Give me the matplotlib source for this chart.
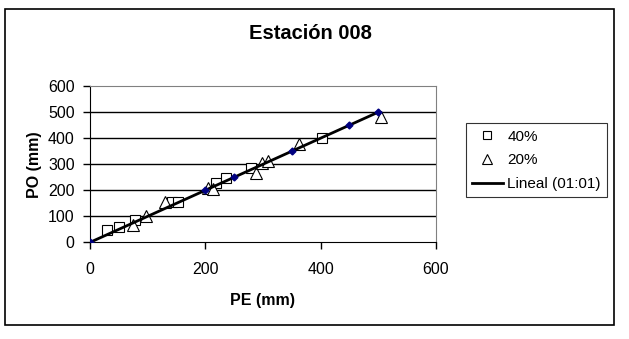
import matplotlib
matplotlib.use("Agg")
import matplotlib.pyplot as plt
from matplotlib.patches import Rectangle

plt.rcParams['font.family'] = ['Liberation Sans', 'DejaVu Sans']

# 40% series
pe_40 = [30, 50, 78, 142, 153, 219, 236, 280, 403]
po_40 = [48, 58, 86, 156, 156, 228, 246, 284, 400]

# 20% series
pe_20 = [74, 97, 130, 205, 214, 288, 298, 309, 363, 505]
po_20 = [67, 102, 156, 208, 204, 265, 306, 314, 378, 482]

# 1:1 line
pe_11 = [0, 200, 250, 350, 450, 500]
po_11 = [0, 200, 250, 350, 450, 500]

ticks = [0, 100, 200, 300, 400, 500, 600]
xticks = [0, 200, 400, 600]


def main():
    fig = plt.figure(figsize=(6.29, 3.39), dpi=100)
    ax = fig.add_axes([0.143, 0.285, 0.550, 0.461])

    for y in ticks[1:-1]:
        ax.axhline(y, color='black', lw=1.0, zorder=1)

    ax.plot(pe_40, po_40, ls='none', marker='s', ms=7, mfc='white',
            mec='black', mew=0.8, label='40%', zorder=3)
    ax.plot(pe_20, po_20, ls='none', marker='^', ms=9, mfc='white',
            mec='black', mew=0.8, label='20%', zorder=3)
    ax.plot(pe_11, po_11, color='black', lw=2, label='Lineal (01:01)', zorder=4)
    ax.plot(pe_11, po_11, ls='none', marker='D', ms=3.5, color='#000080', zorder=5)

    ax.set_xlim(0, 600)
    ax.set_ylim(0, 600)
    ax.set_xticks(xticks)
    ax.set_yticks(ticks)
    ax.tick_params(direction='out', length=5, width=1, labelsize=11.5,
                   colors='black')
    ax.tick_params(axis='x', pad=9)
    ax.tick_params(axis='y', pad=6)
    for s in ('left', 'bottom'):
        ax.spines[s].set_color('black')
    for s in ('top', 'right'):
        ax.spines[s].set_color('#808080')

    ax.set_xlabel('PE (mm)', fontsize=11.5, fontweight='bold', labelpad=12)
    ax.set_ylabel('PO (mm)', fontsize=11.5, fontweight='bold', labelpad=4)
    fig.text(0.493, 0.902, 'Estación 008', ha='center', va='center',
             fontsize=14.5, fontweight='bold')

    leg = fig.legend(loc='upper left', bbox_to_anchor=(0.741, 0.636),
                     fontsize=11, frameon=True, fancybox=False,
                     edgecolor='black', handlelength=2.0, borderpad=0.4,
                     labelspacing=0.65, handletextpad=0.3, borderaxespad=0,
                     markerscale=0.8)
    leg.get_frame().set_linewidth(0.8)

    fig.patches.append(Rectangle((0.008, 0.04), 0.968, 0.934, transform=fig.transFigure,
                                 fill=False, edgecolor='black', lw=1.2))

    fig.savefig('out.png', dpi=100)


if __name__ == '__main__':
    main()
